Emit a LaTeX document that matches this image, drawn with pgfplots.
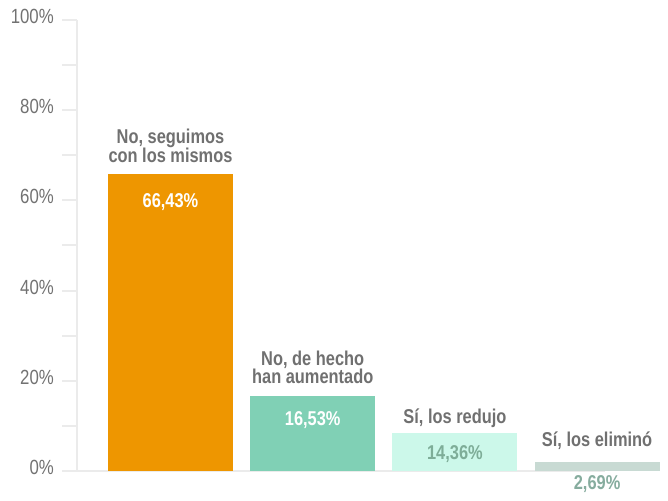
\documentclass[border=0pt]{standalone}
\usepackage{fontspec}
\setmainfont{Liberation Sans}[FakeStretch=0.82]
\usepackage{pgfplots}
\pgfplotsset{compat=1.18}
\definecolor{axgray}{HTML}{EBEBEB}
\definecolor{txtgray}{HTML}{707070}
\definecolor{tickgray}{HTML}{727272}
\definecolor{cA}{HTML}{EE9600}
\definecolor{cB}{HTML}{80D0B5}
\definecolor{cC}{HTML}{CCF8EA}
\definecolor{cD}{HTML}{C8DAD3}
\definecolor{lC}{HTML}{7EAD98}
\definecolor{lD}{HTML}{86AC9E}
\begin{document}
\begin{tikzpicture}[x=1bp,y=1bp]
\useasboundingbox (0,0) rectangle (668,501);
\begin{axis}[
  at={(77bp,30bp)}, anchor=south west,
  scale only axis, width=528bp, height=451bp,
  xmin=-0.6575, xmax=3.0555, ymin=0, ymax=100,
  clip=false,
  axis y line=left, axis x line=bottom,
  x axis line style={draw=axgray, line width=1.8bp, -},
  y axis line style={draw=axgray, line width=2bp, -},
  xtick=\empty,
  ytick={0,20,...,100}, minor ytick={10,30,...,90},
  tick align=outside,
  major tick length=15bp, minor tick length=15bp,
  every tick/.style={draw=axgray, line width=2bp},
  minor tick style={draw=axgray, line width=2bp},
  major tick style={draw=axgray, line width=2bp},
  yticklabel={\pgfmathprintnumber{\tick}\%},
  /pgf/number format/assume math mode=true,
  y tick label style={font=\fontsize{20.5bp}{22bp}\selectfont, text=tickgray, yshift=3.5bp, xshift=-4bp, inner sep=4bp},
  nodes near coords,
  point meta=explicit symbolic,
  every node near coord/.style={font=\bfseries\fontsize{20bp}{17bp}\selectfont, align=center, inner sep=0pt, text depth=0pt},
]
% bars with value labels
\addplot[ybar, bar width=125bp, bar shift=0pt, fill=cA, draw=none,
  every node near coord/.append style={anchor=base, yshift=-33bp, text=white}]
  coordinates {(0,65.85) [66,43\%]};
\addplot[ybar, bar width=125bp, bar shift=0pt, fill=cB, draw=none,
  every node near coord/.append style={anchor=base, yshift=-30bp, text=white}]
  coordinates {(1,16.63) [16,53\%]};
\addplot[ybar, bar width=125bp, bar shift=0pt, fill=cC, draw=none,
  every node near coord/.append style={anchor=base, yshift=-27bp, text=lC}]
  coordinates {(2,8.43) [14,36\%]};
\addplot[ybar, bar width=125bp, bar shift=0pt, fill=cD, draw=none,
  every node near coord/.append style={anchor=base, yshift=-28bp, text=lD}]
  coordinates {(3,2.0) [2,69\%]};
% category labels
\addplot[ybar, bar width=125bp, bar shift=0pt, draw=none, fill=none,
  every node near coord/.append style={anchor=south, yshift=11bp, text=txtgray}]
  coordinates {(0,65.85) [No, seguimos\\con los mismos]};
\addplot[ybar, bar width=125bp, bar shift=0pt, draw=none, fill=none,
  every node near coord/.append style={anchor=south, yshift=12bp, text=txtgray}]
  coordinates {(1,16.63) [No, de hecho\\han aumentado]};
\addplot[ybar, bar width=125bp, bar shift=0pt, draw=none, fill=none,
  every node near coord/.append style={anchor=south, yshift=9bp, text=txtgray}]
  coordinates {(2,8.43) [Sí, los redujo]};
\addplot[ybar, bar width=125bp, bar shift=0pt, draw=none, fill=none,
  every node near coord/.append style={anchor=south, yshift=15bp, text=txtgray}]
  coordinates {(3,2.0) [Sí, los eliminó]};
\end{axis}
\end{tikzpicture}
\end{document}
